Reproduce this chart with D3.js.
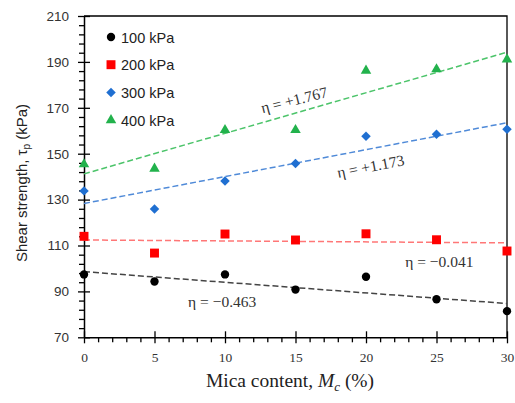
<!DOCTYPE html>
<html>
<head>
<meta charset="utf-8">
<script src="https://cdn.jsdelivr.net/npm/d3@7"></script>
<style>
  body { margin: 0; background: #fff; }
  svg { display: block; }
  .sans { font-family: Arial, "Liberation Sans", sans-serif; }
  .serif { font-family: "Palatino Linotype", "Liberation Serif", "DejaVu Serif", serif; }
</style>
</head>
<body>
<svg id="chart" width="515" height="403"></svg>
<script>
const mica = [0, 5, 10, 15, 20, 25, 30];
const s100 = [97.4, 94.3, 97.4, 90.8, 96.4, 86.6, 81.4];
const s200 = [114.0, 106.7, 115.0, 112.4, 115.1, 112.5, 107.6];
const s300 = [133.8, 125.9, 138.1, 145.7, 157.6, 158.5, 160.7];
const s400 = [145.4, 143.5, 160.3, 160.3, 186.2, 186.8, 191.1];
const seriesNames = ['100 kPa', '200 kPa', '300 kPa', '400 kPa'];
const etas = [-0.463, -0.041, 1.173, 1.767];
const intercepts = [98.6, 112.4, 128.3, 141.2];
const xTicks = [0, 5, 10, 15, 20, 25, 30];
const yTicks = [70, 90, 110, 130, 150, 170, 190, 210];

const svg = d3.select('#chart');
const margin = {top: 16, right: 8, bottom: 66, left: 84};
const width = 515, height = 403;

const x = d3.scaleLinear().domain([0, 30]).range([margin.left, width - margin.right]);
const y = d3.scaleLinear().domain([70, 210]).range([height - margin.bottom + 0.3, margin.top]);

const colors = ['#000000', '#ff0000', '#1f6fd1', '#22b24c'];
const lineColors = ['#444444', '#ff7777', '#4f8ad8', '#4cc46a'];
const symbols = [d3.symbolCircle, d3.symbolSquare, d3.symbolSquare, d3.symbolTriangle];
const rotations = [0, 0, 45, 0];
const sizes = [55, 80, 45, 48];
const data = [s100, s200, s300, s400];

// frame (top + right)
svg.append('path')
  .attr('d', `M${x(0)},${y(210)}H${x(30)}V${y(70)}`)
  .attr('fill', 'none').attr('stroke', '#000').attr('stroke-width', 1.3);

// minor ticks
const xMinor = d3.range(0, 31, 1).filter(d => d % 5 !== 0);
svg.append('g')
  .attr('transform', `translate(0,${y(70)})`)
  .call(d3.axisBottom(x).tickValues(xMinor).tickSize(5).tickFormat(''))
  .call(g => g.select('.domain').remove())
  .selectAll('line').attr('stroke-width', 1.3);

const yMinor = d3.range(70, 211, 4).filter(d => (d - 70) % 20 !== 0);
svg.append('g')
  .attr('transform', `translate(${x(0)},0)`)
  .call(d3.axisLeft(y).tickValues(yMinor).tickSize(5).tickFormat(''))
  .call(g => g.select('.domain').remove())
  .selectAll('line').attr('stroke-width', 1.3);

// x axis
const xAxis = svg.append('g')
  .attr('transform', `translate(0,${y(70)})`)
  .call(d3.axisBottom(x).tickValues(xTicks).tickSize(6).tickPadding(9).tickSizeOuter(0));
xAxis.select('.domain').attr('stroke-width', 1.5);
xAxis.selectAll('.tick line').attr('y1', -6).attr('stroke-width', 1.3);
xAxis.selectAll('text')
  .attr('class', 'serif').attr('font-size', 13.5).attr('fill', '#333');

// y axis
const yAxis = svg.append('g')
  .attr('transform', `translate(${x(0)},0)`)
  .call(d3.axisLeft(y).tickValues(yTicks).tickSize(6).tickPadding(9).tickSizeOuter(0));
yAxis.select('.domain').attr('stroke-width', 1.5);
yAxis.selectAll('.tick line').attr('x1', 6).attr('stroke-width', 1.3);
yAxis.selectAll('text')
  .attr('class', 'sans').attr('font-size', 13.5).attr('fill', '#333');

// trend lines
data.forEach((s, i) => {
  svg.append('line')
    .attr('x1', x(0)).attr('y1', y(intercepts[i]))
    .attr('x2', x(30)).attr('y2', y(intercepts[i] + etas[i] * 30))
    .attr('stroke', lineColors[i])
    .attr('stroke-width', 1.5)
    .attr('stroke-dasharray', '6,3');
});

// points
data.forEach((s, i) => {
  svg.append('g').selectAll('path')
    .data(s)
    .join('path')
    .attr('transform', (d, j) => `translate(${x(mica[j])},${y(d)}) rotate(${rotations[i]})`)
    .attr('d', d3.symbol().type(symbols[i]).size(sizes[i]))
    .attr('fill', colors[i]);
});

// eta labels
const fmt = v => (v > 0 ? '+' : '\u2212') + Math.abs(v).toFixed(3);
const etaPos = [
  {cx: 9.8, dy: 25, rot: 0},
  {cx: 25.2, dy: 25, rot: 0},
  {cx: 20.4, dy: 23, rot: -11},
  {cx: 15, dy: -8, rot: -14}
];
etaPos.forEach((p, i) => {
  const px = x(p.cx), py = y(intercepts[i] + etas[i] * p.cx) + p.dy;
  svg.append('text')
    .attr('class', 'serif')
    .attr('transform', `translate(${px},${py}) rotate(${p.rot})`)
    .attr('text-anchor', 'middle')
    .attr('font-size', 15.5)
    .attr('fill', '#333')
    .text(`\u03B7 = ${fmt(etas[i])}`);
});

// legend
const legend = svg.append('g').attr('transform', 'translate(111,37)');
seriesNames.forEach((name, i) => {
  const row = legend.append('g').attr('transform', `translate(0,${i * 27.7})`);
  row.append('path')
    .attr('transform', `rotate(${rotations[i]})`)
    .attr('d', d3.symbol().type(symbols[i]).size(sizes[i]))
    .attr('fill', colors[i]);
  row.append('text')
    .attr('class', 'sans')
    .attr('x', 10).attr('y', 5.5)
    .attr('font-size', 14.5).attr('fill', '#222')
    .text(name);
});

// axis titles
const xt = svg.append('text')
  .attr('class', 'serif')
  .attr('x', 290).attr('y', 387)
  .attr('text-anchor', 'middle')
  .attr('font-size', 19.5).attr('fill', '#222');
xt.append('tspan').text('Mica content, ');
xt.append('tspan').attr('font-style', 'italic').text('M');
xt.append('tspan').attr('font-style', 'italic').attr('font-size', 13).attr('dy', 4).text('c');
xt.append('tspan').attr('dy', -4).text(' (%)');

const yt = svg.append('text')
  .attr('class', 'sans')
  .attr('transform', 'translate(27,183) rotate(-90)')
  .attr('text-anchor', 'middle')
  .attr('font-size', 15).attr('fill', '#222');
yt.append('tspan').text('Shear strength, \u03C4');
yt.append('tspan').attr('font-size', 10).attr('dy', 3).text('p');
yt.append('tspan').attr('dy', -3).text(' (kPa)');
</script>
</body>
</html>
